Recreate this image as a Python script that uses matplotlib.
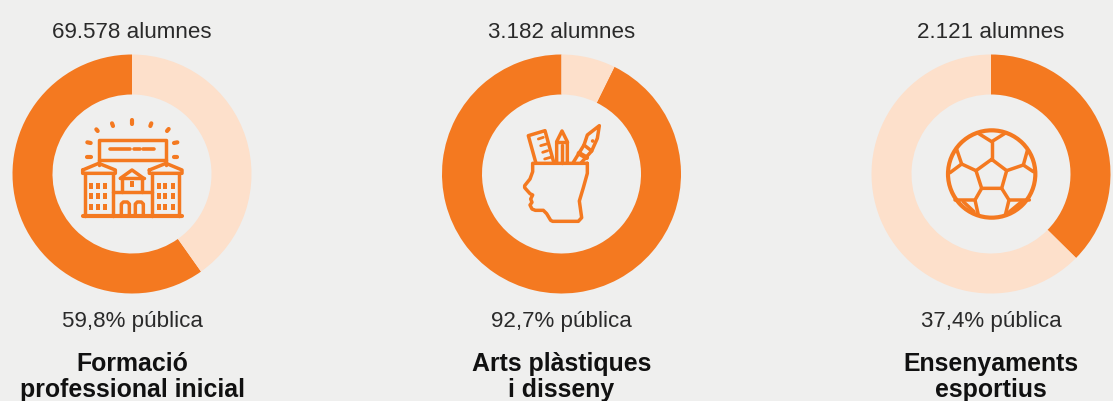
import matplotlib
matplotlib.use("Agg")
import matplotlib.pyplot as plt
from matplotlib.patches import Circle, Rectangle

# ---- data ----
titles = ["Formació\nprofessional inicial", "Arts plàstiques\ni disseny", "Ensenyaments\nesportius"]
students = ["69.578 alumnes", "3.182 alumnes", "2.121 alumnes"]
public_labels = ["59,8% pública", "92,7% pública", "37,4% pública"]
public_share = [59.8, 92.7, 37.4]
other_share = [40.2, 7.3, 62.6]
counterclockwise = [True, True, False]

ORANGE = "#F47920"
LIGHT = "#FDE0CB"
BG = "#EFEFEE"
TEXT = "#2A2A2A"
W, H = 1113, 401
CENTERS = [132, 561.5, 991]
CY, R_OUT, RING = 174, 119.5, 40

plt.rcParams["font.family"] = ["Liberation Sans", "DejaVu Sans"]
fig = plt.figure(figsize=(W / 100, H / 100), dpi=100, facecolor=BG)

for i, cx in enumerate(CENTERS):
    ax = fig.add_axes([(cx - R_OUT) / W, 1 - (CY + R_OUT) / H, 2 * R_OUT / W, 2 * R_OUT / H])
    ax.pie([public_share[i], other_share[i]], colors=[ORANGE, LIGHT], startangle=90,
           counterclock=counterclockwise[i], radius=1,
           wedgeprops=dict(width=RING / R_OUT, linewidth=0))
    ax.set_xlim(-1, 1)
    ax.set_ylim(-1, 1)
    ax.axis("off")

ov = fig.add_axes([0, 0, 1, 1], zorder=5)
ov.set_xlim(0, W)
ov.set_ylim(H, 0)
ov.axis("off")
ov.patch.set_alpha(0)

for i, cx in enumerate(CENTERS):
    ov.text(cx, 38, students[i], ha="center", va="baseline", fontsize=16.1, color=TEXT)
    ov.text(cx, 327, public_labels[i], ha="center", va="baseline", fontsize=16.1, color=TEXT)
    a, b = titles[i].split("\n")
    ov.text(cx, 371, a, ha="center", va="baseline", fontsize=17.9, fontweight="bold", color="#111111")
    ov.text(cx, 397, b, ha="center", va="baseline", fontsize=17.9, fontweight="bold", color="#111111")


def stroke(ox, oy, pts, lw=2.5, closed=False):
    xy = [(ox + x / 3, oy + y / 3) for x, y in pts]
    if closed:
        xy.append(xy[0])
    ov.plot([p[0] for p in xy], [p[1] for p in xy], color=ORANGE, lw=lw,
            solid_capstyle="round", solid_joinstyle="round")


def building(ox=72, oy=110):
    s = lambda pts, **k: stroke(ox, oy, pts, **k)
    s([(80, 165), (80, 90), (282, 90), (282, 165)])
    s([(80, 150), (282, 150)])
    for seg in [[(115, 116), (175, 116)], [(185, 116), (203, 116)], [(212, 116), (245, 116)]]:
        s(seg, lw=2.6)
    for seg in [[(73, 58), (77, 63)], [(120, 40), (123, 48)], [(180, 30), (180, 41)],
                [(238, 40), (235, 48)], [(290, 57), (285, 63)], [(46, 97), (56, 99)],
                [(46, 141), (56, 141)], [(316, 97), (306, 99)], [(316, 141), (306, 141)]]:
        s(seg, lw=3)
    for a, l, r, bl, br in [(80, 32, 130, 38, 122), (282, 232, 330, 240, 322)]:
        s([(l, 180), (a, 160), (r, 180), (r, 190), (l, 190)], closed=True)
        s([(bl, 190), (bl, 318)])
        s([(br, 190), (br, 318)])
        for x in (bl + 20, bl + 40, bl + 62):
            for y in (229, 259, 290):
                ov.add_patch(Rectangle((ox + (x - 6) / 3, oy + (y - 9) / 3), 12 / 3, 18 / 3,
                                       color=ORANGE, lw=0))
    s([(32, 318), (330, 318)], lw=3)
    s([(122, 245), (240, 245)])
    s([(145, 205), (180, 180), (215, 205)])
    s([(145, 205), (215, 205)])
    s([(150, 205), (150, 245)])
    s([(210, 205), (210, 245)])
    ov.add_patch(Rectangle((ox + 173 / 3, oy + 213 / 3), 14 / 3, 18 / 3, color=ORANGE, lw=0))
    s([(148, 318), (148, 282), (154, 276), (166, 276), (172, 282), (172, 318)])
    s([(190, 318), (190, 282), (196, 276), (208, 276), (214, 282), (214, 318)])


def head(ox=510, oy=115):
    s = lambda pts, **k: stroke(ox, oy, pts, **k)
    s([(232, 145), (68, 145), (68, 170), (60, 192), (44, 212), (44, 218), (60, 236), (68, 240),
       (62, 252), (66, 262), (60, 270), (66, 282), (76, 286), (100, 286), (110, 296),
       (122, 316), (128, 319), (205, 319), (215, 308), (208, 258), (220, 218), (232, 175),
       (232, 145)])
    s([(78, 145), (55, 62), (105, 47), (132, 145)])
    for (x0, y0), (x1, y1) in [((85, 72), (100, 67)), ((92, 92), (113, 86)),
                               ((98, 112), (113, 107)), ((104, 132), (125, 126))]:
        s([(x0, y0), (x1, y1)], lw=2)
    s([(140, 145), (140, 80), (156, 48), (172, 80), (172, 145)])
    s([(140, 82), (172, 82)])
    s([(156, 90), (156, 145)])
    s([(190, 142), (222, 90), (232, 60), (268, 32), (262, 70), (245, 108), (212, 145)])
    s([(222, 90), (245, 108)])
    s([(207, 115), (230, 128)], lw=3.5)
    ov.add_patch(Circle((ox + 248 / 3, oy + 78 / 3), 1.8, color=ORANGE, lw=0))


def ball(ox=940, oy=120):
    s = lambda pts, **k: stroke(ox, oy, pts, **k)
    ov.add_patch(Circle((ox + 155 / 3, oy + 162 / 3), 131 / 3, fill=False, ec=ORANGE, lw=3))
    s([(155, 118), (200, 152), (185, 205), (125, 205), (108, 152)], closed=True)
    s([(155, 118), (155, 65)])
    s([(115, 40), (155, 65), (195, 40)])
    s([(200, 152), (250, 135), (280, 155)])
    s([(250, 135), (262, 92)])
    s([(108, 152), (65, 132), (30, 158)])
    s([(65, 132), (50, 88)])
    s([(185, 205), (207, 240), (268, 240)])
    s([(207, 240), (196, 285)])
    s([(125, 205), (105, 240), (45, 240)])
    s([(105, 240), (115, 285)])
    s([(70, 245), (102, 275)])
    s([(245, 245), (205, 278)])


building()
head()
ball()

fig.savefig("out.png", dpi=100, facecolor=BG)
